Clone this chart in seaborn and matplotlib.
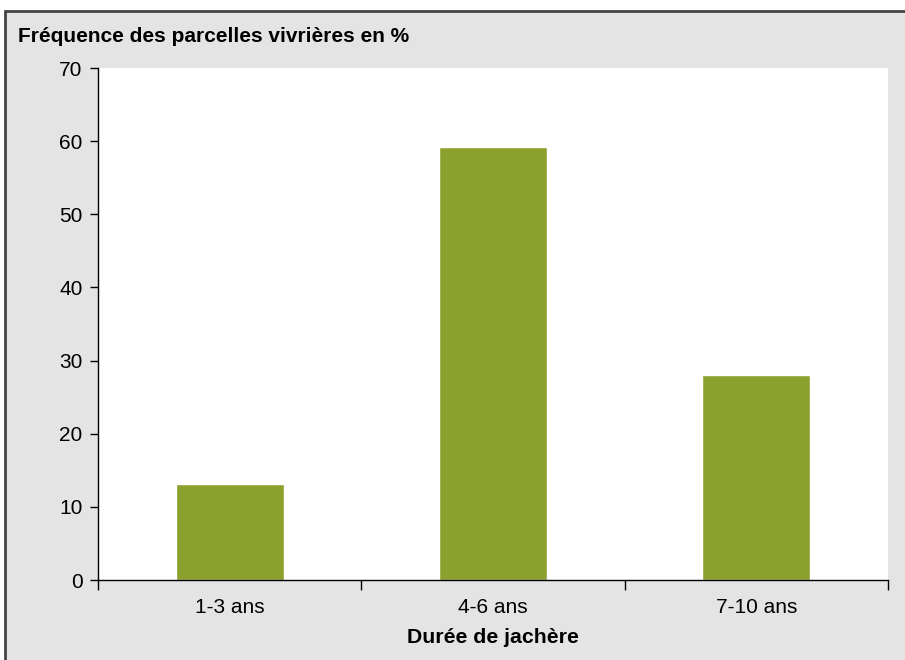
import matplotlib
matplotlib.use("Agg")
import matplotlib.pyplot as plt
import seaborn as sns
import pandas as pd
from matplotlib.patches import Rectangle

# données
categories = ["1-3 ans", "4-6 ans", "7-10 ans"]
frequences = [13.1, 59.2, 28.0]
y_ticks = [0, 10, 20, 30, 40, 50, 60, 70]

df = pd.DataFrame({"duree": categories, "freq": frequences})

sns.set_style("white")
plt.rcParams["font.family"] = ["Liberation Sans", "DejaVu Sans"]
plt.rcParams["text.color"] = "black"
plt.rcParams["axes.labelcolor"] = "black"
plt.rcParams["xtick.color"] = "black"
plt.rcParams["ytick.color"] = "black"

fig = plt.figure(figsize=(9.05, 6.6), dpi=100, facecolor="white")

# fond gris avec bordure (pas de bord à droite ni en bas)
bg = Rectangle((5 / 905, -0.02), 1.05, 1 - 11 / 660 + 0.02,
               transform=fig.transFigure, facecolor="#e4e4e4",
               edgecolor="#444444", linewidth=2, zorder=-10)
fig.patches.append(bg)

ax = fig.add_axes([98 / 905, 1 - 580 / 660, (888 - 98) / 905, (580 - 68) / 660])
ax.set_facecolor("white")

sns.barplot(data=df, x="duree", y="freq", color="#8ca12d", width=0.41,
            saturation=1, ax=ax)

ax.set_xlim(-0.5, 2.5)
ax.set_ylim(0, 70)
ax.set_yticks(y_ticks)
ax.set_ylabel("")
ax.set_xlabel("Durée de jachère", fontsize=15.3, fontweight="bold", labelpad=8)

for s in ["top", "right"]:
    ax.spines[s].set_visible(False)
for s in ["left", "bottom"]:
    ax.spines[s].set_color("black")
    ax.spines[s].set_linewidth(1)

ax.tick_params(axis="y", length=6, width=1, color="black", labelsize=15,
               left=True, pad=5)
ax.tick_params(axis="x", which="major", length=0, labelsize=15, pad=13)
ax.set_xticks([-0.5, 0.5, 1.5, 2.5], minor=True)
ax.tick_params(axis="x", which="minor", length=7, width=1, color="black",
               bottom=True)

fig.text(18 / 905, 1 - 36 / 660, "Fréquence des parcelles vivrières en %",
         fontsize=15, fontweight="bold", va="center", ha="left")

fig.savefig("out.png", dpi=100, facecolor="white")
